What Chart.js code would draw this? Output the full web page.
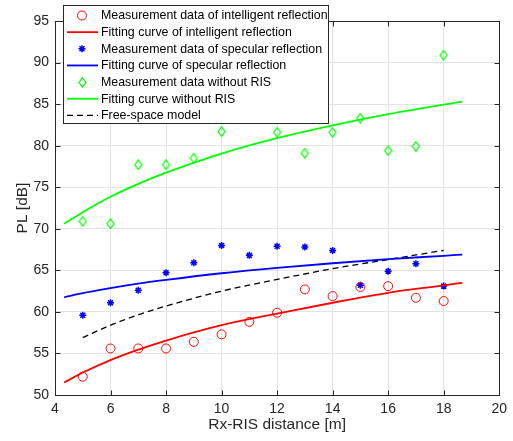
<!DOCTYPE html>
<html>
<head>
<meta charset="utf-8">
<script src="https://cdn.jsdelivr.net/npm/chart.js@4"></script>
<style>
  html, body { margin: 0; padding: 0; background: #fff; }
  #wrap { width: 513px; height: 441px; }
</style>
</head>
<body>
<div id="wrap"><canvas id="pl-chart" width="513" height="441"></canvas></div>
<script>
// --- measured path loss vs Rx-RIS distance ---
const distances = [5, 6, 7, 8, 9, 10, 11, 12, 13, 14, 15, 16, 17, 18];
const intelligentPL = [52.2, 55.6, 55.6, 55.6, 56.4, 57.3, 58.8, 59.9, 62.7, 61.9, 63.0, 63.1, 61.7, 61.3];
const specularPL = [59.6, 61.1, 62.6, 64.7, 65.9, 68.0, 66.8, 67.9, 67.8, 67.4, 63.2, 64.9, 65.8, 63.1];
const noRisDistances = [5, 6, 7, 8, 9, 10, 12, 13, 14, 15, 16, 17, 18];
const noRisPL = [70.9, 70.6, 77.7, 77.7, 78.5, 81.7, 81.6, 79.1, 81.6, 83.3, 79.4, 79.9, 90.9];

// --- fitted curves ---
const fitDistances = [4.33, 5, 6, 7, 8, 10, 12, 14, 16, 18, 18.67];
const intelligentFit = [51.5, 52.7, 54.2, 55.45, 56.55, 58.4, 59.8, 61.1, 62.3, 63.2, 63.5];
const specularFit = [61.75, 62.25, 62.85, 63.4, 63.85, 64.65, 65.3, 65.85, 66.35, 66.75, 66.9];
const noRisFit = [70.6, 72.0, 73.85, 75.4, 76.75, 79.05, 80.9, 82.45, 83.8, 84.95, 85.3];
const freeSpaceDistances = [5, 6, 7, 8, 10, 12, 14, 16, 18];
const freeSpacePL = [56.9, 58.4, 59.65, 60.7, 62.5, 63.9, 65.2, 66.3, 67.4];

const xTicks = [4, 6, 8, 10, 12, 14, 16, 18, 20];
const yTicks = [50, 55, 60, 65, 70, 75, 80, 85, 90, 95];

const FONT = 'Liberation Sans, Arial, Helvetica, sans-serif';
const AXIS_COLOR = '#262626';

const pts = (xs, ys) => xs.map((x, i) => ({ x, y: ys[i] }));

// tall diamond marker
function makeDiamond(color) {
  const c = document.createElement('canvas');
  c.width = 9; c.height = 11;
  const g = c.getContext('2d');
  g.strokeStyle = color;
  g.lineWidth = 1.25;
  g.beginPath();
  g.moveTo(4.5, 0.8);
  g.lineTo(8, 5.5);
  g.lineTo(4.5, 10.2);
  g.lineTo(1, 5.5);
  g.closePath();
  g.stroke();
  return c;
}
const diamond = makeDiamond('#00ff00');

const curve = (label, xs, ys, color, dash) => ({
  label, data: pts(xs, ys), showLine: true, borderColor: color, borderWidth: dash ? 1.3 : 1.8,
  borderDash: dash || [], pointRadius: 0, pointHoverRadius: 0, cubicInterpolationMode: 'monotone', fill: false
});

const datasets = [
  { label: 'Measurement data of intelligent reflection', data: pts(distances, intelligentPL), showLine: false,
    pointStyle: 'circle', pointRadius: 4.5, borderColor: '#ff0000', backgroundColor: 'rgba(0,0,0,0)', borderWidth: 1 },
  curve('Fitting curve of intelligent reflection', fitDistances, intelligentFit, '#ff0000'),
  { label: 'Measurement data of specular reflection', data: pts(distances, specularPL), showLine: false,
    pointStyle: 'star', pointRadius: 3.5, borderColor: '#0000ff', backgroundColor: '#0000ff', borderWidth: 1.5 },
  curve('Fitting curve of specular reflection', fitDistances, specularFit, '#0000ff'),
  { label: 'Measurement data without RIS', data: pts(noRisDistances, noRisPL), showLine: false,
    pointStyle: diamond, pointRadius: 5, borderColor: '#00ff00', backgroundColor: 'rgba(0,0,0,0)' },
  curve('Fitting curve without RIS', fitDistances, noRisFit, '#00ff00'),
  curve('Free-space model', freeSpaceDistances, freeSpacePL, '#000000', [6, 4])
];

// box around the axes with inward ticks on all four sides
const axesBox = {
  id: 'axesBox',
  afterDatasetsDraw(chart) {
    const { ctx, chartArea: a, scales } = chart;
    const L = Math.round(a.left) + 0.5, R = Math.round(a.right) + 0.5;
    const T = Math.round(a.top) + 0.5, B = Math.round(a.bottom) + 0.5;
    ctx.save();
    ctx.strokeStyle = AXIS_COLOR;
    ctx.lineWidth = 1;
    ctx.strokeRect(L, T, R - L, B - T);
    ctx.beginPath();
    xTicks.forEach(v => {
      const px = Math.round(scales.x.getPixelForValue(v)) + 0.5;
      ctx.moveTo(px, B); ctx.lineTo(px, B - 5);
      ctx.moveTo(px, T); ctx.lineTo(px, T + 5);
    });
    yTicks.forEach(v => {
      const py = Math.round(scales.y.getPixelForValue(v)) + 0.5;
      ctx.moveTo(L, py); ctx.lineTo(L + 5, py);
      ctx.moveTo(R, py); ctx.lineTo(R - 5, py);
    });
    ctx.stroke();
    ctx.restore();
  }
};

// legend box in the upper left corner
const legendBox = {
  id: 'legendBox',
  afterDraw(chart) {
    const { ctx } = chart;
    const x0 = 63.5, y0 = 5.5, w = 265, h = 118;
    ctx.save();
    ctx.fillStyle = '#fff';
    ctx.fillRect(x0, y0, w, h);
    ctx.strokeStyle = AXIS_COLOR;
    ctx.lineWidth = 1;
    ctx.strokeRect(x0, y0, w, h);
    ctx.font = '12.4px ' + FONT;
    ctx.textBaseline = 'middle';
    chart.data.datasets.forEach((ds, i) => {
      const cy = 15.5 + i * 16.65;
      const sx0 = 67, sx1 = 98, mx = 82;
      ctx.save();
      ctx.strokeStyle = ds.borderColor;
      ctx.lineWidth = ds.borderWidth || 1;
      if (ds.showLine) {
        ctx.setLineDash(ds.borderDash || []);
        ctx.beginPath();
        ctx.moveTo(sx0, cy); ctx.lineTo(sx1, cy);
        ctx.stroke();
      } else if (ds.pointStyle === 'circle') {
        ctx.beginPath();
        ctx.arc(mx, cy, ds.pointRadius, 0, Math.PI * 2);
        ctx.stroke();
      } else if (ds.pointStyle === 'star') {
        const r = ds.pointRadius;
        ctx.beginPath();
        for (let k = 0; k < 4; k++) {
          const ang = k * Math.PI / 4;
          ctx.moveTo(mx - r * Math.cos(ang), cy - r * Math.sin(ang));
          ctx.lineTo(mx + r * Math.cos(ang), cy + r * Math.sin(ang));
        }
        ctx.stroke();
      } else {
        ctx.drawImage(ds.pointStyle, Math.round(mx - ds.pointStyle.width / 2), Math.round(cy - ds.pointStyle.height / 2));
      }
      ctx.restore();
      ctx.fillStyle = '#000';
      ctx.fillText(ds.label, 101, cy + 0.5);
    });
    ctx.restore();
  }
};

new Chart(document.getElementById('pl-chart'), {
  type: 'scatter',
  data: { datasets },
  options: {
    responsive: false,
    animation: false,
    events: [],
    layout: { padding: { top: 21, right: 13, left: 0, bottom: 0 } },
    plugins: { legend: { display: false }, tooltip: { enabled: false } },
    scales: {
      x: {
        type: 'linear', min: 4, max: 20,
        afterFit: s => { s.height = 46; },
        afterBuildTicks: s => { s.ticks = xTicks.map(v => ({ value: v })); },
        border: { display: false },
        grid: { color: '#e3e3e3', drawTicks: false },
        ticks: { color: AXIS_COLOR, padding: 6, font: { family: FONT, size: 14 }, maxRotation: 0 },
        title: { display: true, text: 'Rx-RIS distance [m]', color: AXIS_COLOR, padding: { bottom: 7 },
                 font: { family: FONT, size: 15.5 } }
      },
      y: {
        type: 'linear', min: 50, max: 95,
        afterFit: s => { s.width = 55; },
        afterBuildTicks: s => { s.ticks = yTicks.map(v => ({ value: v })); },
        border: { display: false },
        grid: { color: '#e3e3e3', drawTicks: false },
        ticks: { color: AXIS_COLOR, padding: 6, font: { family: FONT, size: 14 } },
        title: { display: true, text: 'PL [dB]', color: AXIS_COLOR, padding: { top: 13 },
                 font: { family: FONT, size: 15.5 } }
      }
    }
  },
  plugins: [axesBox, legendBox]
});
</script>
</body>
</html>
